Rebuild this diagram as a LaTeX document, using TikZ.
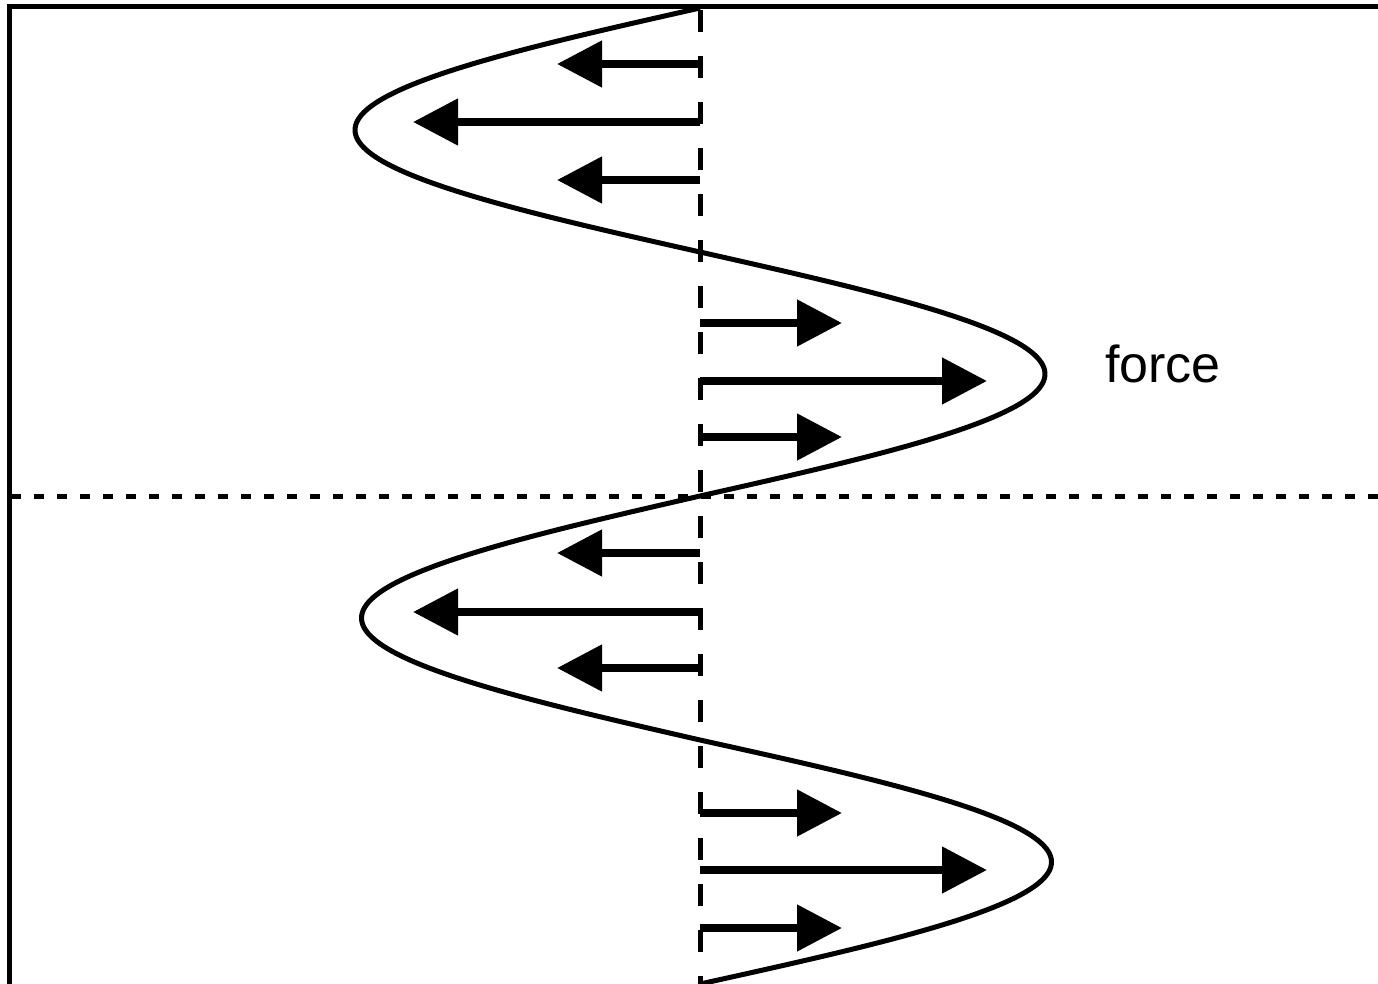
\documentclass[tikz,border=0pt]{standalone}
\usepackage{fontspec}
\setmainfont{Liberation Sans}
\usetikzlibrary{arrows.meta}
\tikzset{
  frameline/.style={line width=5pt},
  axisline/.style={line width=5pt, dash pattern=on 22pt off 24pt},
  midline/.style={line width=5pt, dash pattern=on 10pt off 13pt},
  wave/.style={line width=5pt},
  forcearrow/.style={line width=8pt, -{Triangle[length=45pt,width=45pt]}},
  lbl/.style={font=\fontsize{52}{60}\selectfont, inner sep=0pt}
}
\begin{document}
\begin{tikzpicture}[x=1pt,y=-1pt]
\useasboundingbox (0,0) rectangle (1378,984);
\draw[frameline] (9,986.5) -- (9,7) -- (1382,7);
\draw[midline] (11,496) -- (1378,496);
\draw[axisline] (700,10) -- (700,986);
\draw[wave] plot[domain=8:984, samples=400, smooth]
  ({700-345*sin((\x-8)/488*360)+(\x>496)*6.5*abs(sin((\x-8)/488*360))}, {\x});
% arrow anchors
\foreach \n/\y/\tx in {a1/64/557, a2/122/413, a3/180/557,
                       b1/323/842, b2/381/987, b3/437/842,
                       c1/553/557, c2/612/413, c3/668/557,
                       d1/813/842, d2/870/987, d3/928/842}{
  \coordinate (\n s) at (700,\y);
  \coordinate (\n e) at (\tx,\y);
}
\foreach \n in {a1,a2,a3,b1,b2,b3,c1,c2,c3,d1,d2,d3}{
  \draw[forcearrow] (\n s) -- (\n e);
}
\node[lbl] (force) at (1163,364) {force};
\end{tikzpicture}
\end{document}
